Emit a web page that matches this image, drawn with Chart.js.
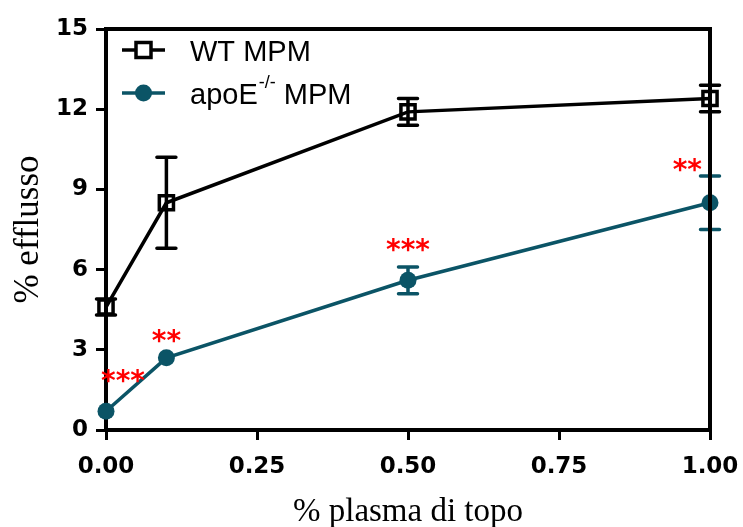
<!DOCTYPE html>
<html lang="it">
<head>
  <meta charset="UTF-8">
  <title>% efflusso</title>
  <style>
    html, body { margin: 0; padding: 0; background: #fff; }
    #wrap { width: 743px; height: 527px; }
  </style>
</head>
<body>
  <div id="wrap"><canvas id="grafico"></canvas></div>

<script src="https://cdn.jsdelivr.net/npm/chart.js"></script>
<script>
  // dati
  const plasma = [0, 0.1, 0.5, 1.0];
  const wtMedia = [4.6, 8.5, 11.9, 12.4];
  const wtErr = [0.3, 1.7, 0.5, 0.5];
  const apoMedia = [0.7, 2.7, 5.6, 8.5];
  const apoErr = [0.0, 0.0, 0.5, 1.0];
  const stelle = ['***', '**', '***', '**'];
  const stelleY = [2.1, 3.6, 7.0, 10.0];
  const yTicks = [0, 3, 6, 9, 12, 15];
  const xTicks = [0, 0.25, 0.5, 0.75, 1.0];

  const TEAL = '#0b5466';

  function punti(xs, ys) {
    return xs.map((x, i) => ({ x: x, y: ys[i] }));
  }

  // barre di errore, cornice, legenda e asterischi
  const extra = {
    id: 'extra',
    afterDatasetsDraw(chart) {
      const ctx = chart.ctx;
      const xs = chart.scales.x, ys = chart.scales.y;
      const ca = chart.chartArea;

      function barre(medie, errs, colore) {
        ctx.save();
        ctx.strokeStyle = colore;
        ctx.lineWidth = 3.5;
        ctx.lineCap = 'round';
        for (let i = 0; i < medie.length; i++) {
          if (!errs[i]) continue;
          const px = xs.getPixelForValue(plasma[i]);
          const top = ys.getPixelForValue(medie[i] + errs[i]);
          const bot = ys.getPixelForValue(medie[i] - errs[i]);
          ctx.beginPath();
          ctx.moveTo(px, top); ctx.lineTo(px, bot);
          ctx.moveTo(px - 9.5, top); ctx.lineTo(px + 9.5, top);
          ctx.moveTo(px - 9.5, bot); ctx.lineTo(px + 9.5, bot);
          ctx.stroke();
        }
        ctx.restore();
      }
      barre(wtMedia, wtErr, '#000');
      barre(apoMedia, apoErr, TEAL);

      // cornice superiore e destra
      ctx.save();
      ctx.strokeStyle = '#000';
      ctx.lineWidth = 4;
      ctx.beginPath();
      ctx.moveTo(ca.left, ca.top);
      ctx.lineTo(ca.right, ca.top);
      ctx.lineTo(ca.right, ca.bottom + 2);
      ctx.stroke();
      ctx.restore();

      // asterischi
      ctx.save();
      ctx.fillStyle = '#ff0000';
      ctx.font = 'bold 28px "DejaVu Sans"';
      ctx.textBaseline = 'alphabetic';
      ctx.textAlign = 'center';
      for (let i = 0; i < stelle.length; i++) {
        const w = ctx.measureText(stelle[i]).width;
        let cx = xs.getPixelForValue(plasma[i]);
        cx = Math.max(ca.left - 5 + w / 2, Math.min(ca.right - 8 - w / 2, cx));
        const cy = ys.getPixelForValue(stelleY[i]);
        ctx.fillText(stelle[i], cx, cy + 16);
      }
      ctx.restore();

      // legenda
      ctx.save();
      const lx = ca.left + 16, ly1 = ca.top + 21, ly2 = ca.top + 64;
      ctx.lineWidth = 3.5;
      ctx.strokeStyle = '#000';
      ctx.beginPath(); ctx.moveTo(lx, ly1); ctx.lineTo(lx + 43, ly1); ctx.stroke();
      ctx.fillStyle = '#fff';
      ctx.fillRect(lx + 14, ly1 - 7.5, 15, 15);
      ctx.strokeRect(lx + 14, ly1 - 7.5, 15, 15);
      ctx.strokeStyle = TEAL;
      ctx.beginPath(); ctx.moveTo(lx, ly2); ctx.lineTo(lx + 43, ly2); ctx.stroke();
      ctx.fillStyle = TEAL;
      ctx.beginPath(); ctx.arc(lx + 21.5, ly2, 8.5, 0, Math.PI * 2); ctx.fill();

      ctx.fillStyle = '#000';
      ctx.textAlign = 'left';
      ctx.textBaseline = 'alphabetic';
      ctx.font = '29px "Liberation Sans"';
      const tx = lx + 68;
      ctx.fillText('WT MPM', tx, ly1 + 11);
      ctx.fillText('apoE', tx, ly2 + 11);
      let w1 = ctx.measureText('apoE').width;
      ctx.font = '18px "Liberation Sans"';
      ctx.fillText('-/-', tx + w1 + 1, ly2 - 5);
      let w2 = ctx.measureText('-/-').width;
      ctx.font = '29px "Liberation Sans"';
      ctx.fillText(' MPM', tx + w1 + w2 + 1, ly2 + 11);
      ctx.restore();
    }
  };

  const config = {
    type: 'line',
    data: {
      datasets: [{
        label: 'WT MPM',
        data: punti(plasma, wtMedia),
        borderColor: '#000',
        borderWidth: 3.5,
        pointStyle: 'rect',
        pointRadius: 10,
        pointBorderWidth: 3.5,
        pointBorderColor: '#000',
        pointBackgroundColor: 'rgba(0,0,0,0)',
        clip: false
      }, {
        label: 'apoE-/- MPM',
        data: punti(plasma, apoMedia),
        borderColor: TEAL,
        borderWidth: 3.5,
        pointStyle: 'circle',
        pointRadius: 8.5,
        pointBorderWidth: 0,
        pointBackgroundColor: TEAL,
        clip: false
      }]
    },
    options: {
      responsive: false,
      animation: false,
      layout: { autoPadding: false, padding: { left: 0, right: 33, top: 29, bottom: 0 } },
      plugins: { legend: { display: false }, tooltip: { enabled: false } },
      scales: {
        x: {
          type: 'linear',
          min: 0, max: 1,
          afterBuildTicks: s => { s.ticks = xTicks.map(v => ({ value: v })); },
          afterFit: s => { s.height = 97; s.paddingLeft = 0; s.paddingRight = 0; },
          ticks: {
            color: '#000',
            padding: 13,
            font: { family: 'DejaVu Sans', weight: 'bold', size: 23 },
            callback: v => Number(v).toFixed(2)
          },
          grid: { drawOnChartArea: false, drawTicks: true, tickLength: 10, tickWidth: 3, tickColor: '#000' },
          border: { color: '#000', width: 4 },
          title: {
            display: true,
            text: '% plasma di topo',
            color: '#000',
            padding: { top: 0, bottom: -5 },
            font: { family: 'Liberation Serif', size: 33 }
          }
        },
        y: {
          min: 0, max: 15,
          afterBuildTicks: s => { s.ticks = yTicks.map(v => ({ value: v })); },
          afterFit: s => { s.width = 106; s.paddingTop = 0; s.paddingBottom = 0; },
          ticks: {
            color: '#000',
            padding: 8,
            font: { family: 'DejaVu Sans', weight: 'bold', size: 23 }
          },
          grid: { drawOnChartArea: false, drawTicks: true, tickLength: 10, tickWidth: 3, tickColor: '#000' },
          border: { color: '#000', width: 4 },
          title: {
            display: true,
            text: '% efflusso',
            color: '#000',
            padding: { top: 8, bottom: 0 },
            font: { family: 'Liberation Serif', size: 35 }
          }
        }
      }
    },
    plugins: [extra]
  };

  const canvas = document.getElementById('grafico');
  canvas.width = 743;
  canvas.height = 527;
  new Chart(canvas, config);
</script>
</body>
</html>
